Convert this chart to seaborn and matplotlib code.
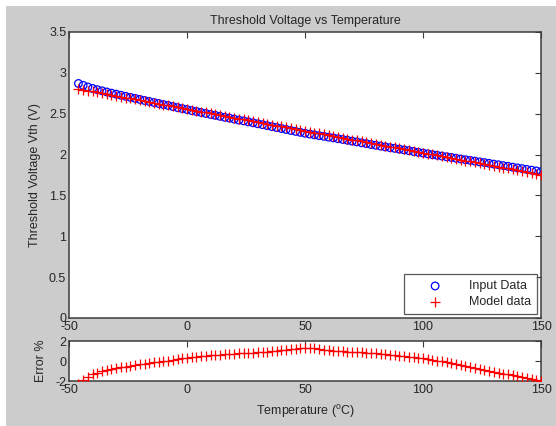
import numpy as np
import pandas as pd
import matplotlib
matplotlib.use("Agg")
import matplotlib.pyplot as plt
import seaborn as sns
from matplotlib.patches import Rectangle

temperature = list(range(-46, 151, 2))
input_vth = [2.870, 2.847, 2.827, 2.809, 2.794, 2.780, 2.766, 2.752, 2.739, 2.726,
             2.713, 2.700, 2.688, 2.675, 2.662, 2.650, 2.637, 2.625, 2.612, 2.601,
             2.588, 2.575, 2.563, 2.551, 2.538, 2.527, 2.515, 2.503, 2.491, 2.480,
             2.468, 2.456, 2.446, 2.434, 2.422, 2.412, 2.400, 2.389, 2.377, 2.366,
             2.354, 2.342, 2.331, 2.319, 2.307, 2.295, 2.284, 2.272, 2.261, 2.251,
             2.241, 2.231, 2.223, 2.213, 2.204, 2.194, 2.185, 2.175, 2.164, 2.155,
             2.144, 2.134, 2.123, 2.114, 2.104, 2.094, 2.085, 2.076, 2.066, 2.057,
             2.048, 2.038, 2.028, 2.019, 2.009, 1.999, 1.991, 1.982, 1.973, 1.965,
             1.955, 1.946, 1.937, 1.929, 1.920, 1.910, 1.902, 1.893, 1.883, 1.875,
             1.865, 1.856, 1.846, 1.837, 1.828, 1.818, 1.809, 1.800, 1.790]
error_pct = [-2.3, -1.9, -1.55, -1.3, -1.15, -1.0, -0.9, -0.8, -0.72, -0.64,
             -0.56, -0.48, -0.4, -0.33, -0.26, -0.19, -0.12, -0.06, 0.0, 0.05,
             0.1, 0.18, 0.26, 0.32, 0.38, 0.43, 0.48, 0.53, 0.57, 0.61,
             0.65, 0.68, 0.71, 0.74, 0.77, 0.80, 0.82, 0.85, 0.88, 0.91,
             0.95, 1.0, 1.05, 1.1, 1.15, 1.2, 1.25, 1.3, 1.33, 1.32,
             1.28, 1.22, 1.15, 1.1, 1.05, 1.0, 0.96, 0.93, 0.9, 0.88,
             0.86, 0.84, 0.82, 0.79, 0.75, 0.7, 0.65, 0.58, 0.52, 0.46,
             0.41, 0.36, 0.31, 0.26, 0.2, 0.13, 0.05, -0.04, -0.13, -0.23,
             -0.33, -0.43, -0.53, -0.63, -0.72, -0.81, -0.9, -0.99, -1.08, -1.17,
             -1.26, -1.34, -1.42, -1.5, -1.59, -1.67, -1.76, -1.85, -1.95]
model_vth = [v * (1 + e / 100.0) for v, e in zip(input_vth, error_pct)]

df = pd.DataFrame({"T": temperature, "Input": input_vth,
                   "Model": model_vth, "Err": error_pct})

sns.set_theme(style="white")
plt.rcParams['font.family'] = ['Liberation Sans', 'DejaVu Sans']
plt.rcParams['axes.unicode_minus'] = False
plt.rcParams['mathtext.fontset'] = 'custom'
plt.rcParams['mathtext.rm'] = 'Liberation Sans'
plt.rcParams['mathtext.it'] = 'Liberation Sans:italic'
FS = 9
TXT = '#262626'
SP = '#3c3c3c'

fig = plt.figure(figsize=(5.56, 4.26), dpi=100, facecolor='white')
fig.patches.append(Rectangle((6/556, 0), 1, 1 - 6/426, transform=fig.transFigure,
                             facecolor='#cccccc', edgecolor='none', zorder=-10))

ax = fig.add_axes([69/556, 1 - 318/426, 472/556, 286/426])
ax2 = fig.add_axes([69/556, 1 - 381/426, 472/556, 40/426])

sns.scatterplot(data=df, x="T", y="Input", ax=ax, marker='o', s=30,
                facecolors='none', edgecolor='blue', linewidth=0.9,
                label='Input Data', zorder=3)
sns.scatterplot(data=df, x="T", y="Model", ax=ax, marker='+', s=42,
                color='red', linewidth=0.9, label='Model data', zorder=4)
sns.scatterplot(data=df, x="T", y="Err", ax=ax2, marker='+', s=42,
                color='red', linewidth=0.9, legend=False, zorder=4)

for a in (ax, ax2):
    a.set_facecolor('white')
    a.set_xlim(-50, 150)
    a.set_xticks([-50, 0, 50, 100, 150])
    a.tick_params(direction='in', length=4, width=0.8, color=SP,
                  top=True, right=True, labelsize=FS, labelcolor=TXT, pad=2)
    for s in a.spines.values():
        s.set_color(SP)
        s.set_linewidth(1.1)
        s.set_visible(True)

ax.set_ylim(0, 3.5)
ax.set_yticks([0, 0.5, 1, 1.5, 2, 2.5, 3, 3.5])
ax.set_yticklabels(['0', '0.5', '1', '1.5', '2', '2.5', '3', '3.5'])
ax.set_xlabel('')
ax.set_ylabel('Threshold Voltage Vth (V)', fontsize=FS, color=TXT, labelpad=6)
ax.set_title('Threshold Voltage vs Temperature', fontsize=FS, color=TXT, pad=6)

ax2.set_ylim(-2, 2)
ax2.set_yticks([-2, 0, 2])
ax2.set_ylabel('Error %', fontsize=FS, color=TXT, labelpad=6)
ax2.set_xlabel(r'Temperature ($^{\mathrm{o}}$C)', fontsize=FS, color=TXT, labelpad=5)

leg = ax.legend(loc='lower right', fontsize=FS, frameon=True, fancybox=False,
                edgecolor='#303030', borderpad=0.5, handletextpad=0.7,
                borderaxespad=0.3, labelspacing=0.3, handlelength=4.0)
leg.get_frame().set_linewidth(0.9)
for t in leg.get_texts():
    t.set_color(TXT)

fig.savefig('out.png', dpi=100, facecolor=fig.get_facecolor())
